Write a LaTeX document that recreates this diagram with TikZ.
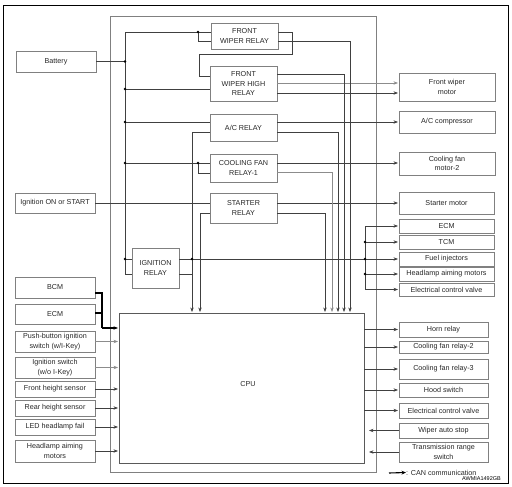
\documentclass[tikz,border=0pt]{standalone}
\usepackage{fontspec}
\setmainfont{Liberation Sans}
\usetikzlibrary{arrows.meta}
\definecolor{boxgray}{gray}{0.5}
\definecolor{wirecol}{gray}{0.25}
\newcommand\mybox[6]{\node[box, anchor=north west, minimum width=#4pt-#2pt, minimum height=#5pt-#3pt] (#1) at (#2,#3) {#6};}
\begin{document}
\begin{tikzpicture}[x=1pt,y=-1pt,
  box/.style={draw=boxgray, line width=0.7pt, inner sep=0pt, outer sep=0pt, align=center,
    font=\fontsize{7.2}{9.3}\selectfont, text=black!85},
  wire/.style={draw=wirecol, line width=0.55pt},
  gwire/.style={draw=black!45, line width=0.6pt},
  arr/.style={-{Stealth[length=4.5pt,width=3.4pt]}, shorten >=1pt},
  can/.style={draw=black, line width=1.4pt},
  dot/.style={circle, fill=black, inner sep=0pt, minimum size=2.8pt},
  lbl/.style={font=\fontsize{7.2}{9.3}\selectfont, text=black!85, inner sep=0pt}
]
\useasboundingbox (0,0) rectangle (512,487);
% frames
\draw[line width=0.8pt] (3,5) rectangle (508,483);
\draw[draw=black!50, line width=0.6pt] (110,16) rectangle (376,472);

% left boxes
\mybox{battery}{16}{51}{96}{72}{Battery}
\mybox{ign}{15}{193}{95}{213}{Ignition ON or START}
\mybox{bcm}{15}{277}{95}{298}{BCM}
\mybox{ecmL}{15}{304}{95}{324}{ECM}
\mybox{pb}{15}{331}{95}{352}{Push-button ignition\\switch (w/I-Key)}
\mybox{isw}{15}{357}{95}{378}{Ignition switch\\(w/o I-Key)}
\mybox{fhs}{15}{381}{95}{397}{Front height sensor}
\mybox{rhs}{15}{400}{95}{416}{Rear height sensor}
\mybox{led}{15}{419}{95}{435}{LED headlamp fail}
\mybox{haml}{15}{440}{95}{462}{Headlamp aiming\\motors}

% relays
\mybox{fwr}{211}{23}{278}{49}{FRONT\\WIPER RELAY}
\mybox{fwhr}{210}{66}{277}{101}{FRONT\\WIPER HIGH\\RELAY}
\mybox{acr}{210}{114}{277}{141}{A/C RELAY}
\mybox{cfr}{210}{154}{277}{182}{COOLING FAN\\RELAY-1}
\mybox{str}{210}{193}{277}{223}{STARTER\\RELAY}
\mybox{igr}{132}{248}{179}{288}{IGNITION\\RELAY}
\node[box, draw=black!65, anchor=north west, minimum width=245pt, minimum height=150pt] (cpu) at (119,313) {};
\node[lbl] (cputxt) at (248,384) {CPU};

% right boxes
\mybox{fwm}{399}{73}{495}{101}{Front wiper\\motor}
\mybox{acc}{399}{111}{495}{133}{A/C compressor}
\mybox{cfm}{399}{152}{495}{175}{Cooling fan\\motor-2}
\mybox{stm}{399}{192}{494}{214}{Starter motor}
\mybox{ecmR}{399}{219}{494}{233}{ECM}
\mybox{tcm}{399}{235}{494}{249}{TCM}
\mybox{fi}{399}{252}{494}{266}{Fuel injectors}
\mybox{hamr}{399}{267}{494}{281}{Headlamp aiming motors}
\mybox{ecvA}{399}{283}{494}{296}{Electrical control valve}
\mybox{horn}{399}{322}{488}{337}{Horn relay}
\mybox{cfr2}{399}{341}{488}{353}{Cooling fan relay-2}
\mybox{cfr3}{399}{359}{488}{379}{Cooling fan relay-3}
\mybox{hood}{399}{383}{488}{397}{Hood switch}
\mybox{ecvB}{399}{403}{488}{418}{Electrical control valve}
\mybox{was}{399}{423}{488}{438}{Wiper auto stop}
\mybox{trs}{399}{442}{488}{462}{Transmission range\\switch}

% power bus
\draw[wire] (fwr.west |- 0,32) -- (125,32) -- (125,274) -- (igr.west |- 0,274);
\draw[wire] (battery.east) -- (battery.east -| 125,0);
\draw[wire] (125,89) -- (fwhr.west |- 0,89);
\draw[wire] (125,122) -- (acr.west |- 0,122);
\draw[wire] (125,163) -- (cfr.west |- 0,163);
\draw[wire] (125,259) -- (igr.west |- 0,259);
\draw[wire] (198,32) -- (198,41) -- (fwr.west |- 0,41);
\draw[wire] (198,163) -- (198,173) -- (cfr.west |- 0,173);
% wiper relay loop
\draw[wire] (fwr.east |- 0,32) -- (292,32) -- (292,54) -- (199,54) -- (199,76) -- (fwhr.west |- 0,76);
% outputs to loads
\draw[gwire,arr] (fwhr.east |- 0,83) -- (fwm.west |- 0,83);
\draw[wire,arr] (fwhr.east |- 0,93) -- (fwm.west |- 0,93);
\draw[wire,arr] (acr.east |- 0,122) -- (acc.west |- 0,122);
\draw[wire,arr] (cfr.east |- 0,163) -- (cfm.west |- 0,163);
\draw[wire] (ign.east) -- (str.west |- ign.east);
\draw[wire,arr] (str.east |- stm.west) -- (stm.west);
% monitor lines to CPU
\draw[wire,arr] (acr.west |- 0,132) -- (192,132) -- (cpu.north -| 192,0);
\draw[wire,arr] (str.west |- 0,213) -- (200,213) -- (cpu.north -| 200,0);
\draw[wire,arr] (str.east |- 0,213) -- (325,213) -- (cpu.north -| 325,0);
\draw[gwire,arr] (cfr.east |- 0,172) -- (332,172) -- (cpu.north -| 332,0);
\draw[wire,arr] (acr.east |- 0,132) -- (338,132) -- (cpu.north -| 338,0);
\draw[wire,arr] (fwhr.east |- 0,74) -- (344,74) -- (cpu.north -| 344,0);
\draw[wire,arr] (fwr.east |- 0,41) -- (350,41) -- (cpu.north -| 350,0);
% ignition relay
\draw[wire] (igr.east |- 0,274) -- (192,274);
\draw[wire,arr] (igr.east |- fi.west) -- (fi.west);
\draw[wire] (ecmR.west -| 365,0) -- (ecvA.west -| 365,0);
\draw[wire,arr] (ecmR.west -| 365,0) -- (ecmR.west);
\draw[wire,arr] (tcm.west -| 365,0) -- (tcm.west);
\draw[wire,arr] (hamr.west -| 365,0) -- (hamr.west);
\draw[wire,arr] (ecvA.west -| 365,0) -- (ecvA.west);
% junction dots
\foreach \p in {(125,61.5),(125,89),(125,122),(125,163),(125,259),(198,32),(198,163),(192,259),(365,242),(365,259),(365,274)}
  \node[dot] at \p {};

% CAN
\draw[can] (bcm.east |- 0,293) -- (102,293) -- (102,328);
\draw[can] (ecmL.east |- 0,313) -- (102,313);
\draw[can,arr] (102,328) -- (cpu.west |- 0,328);

% CPU inputs
\draw[gwire,arr] (pb.east) -- (cpu.west |- pb.east);
\draw[gwire,arr] (isw.east) -- (cpu.west |- isw.east);
\draw[wire,arr] (fhs.east) -- (cpu.west |- fhs.east);
\draw[wire,arr] (rhs.east) -- (cpu.west |- rhs.east);
\draw[wire,arr] (led.east) -- (cpu.west |- led.east);
\draw[wire,arr] (haml.east) -- (cpu.west |- haml.east);
% CPU outputs
\draw[wire,arr] (cpu.east |- horn.west) -- (horn.west);
\draw[wire,arr] (cpu.east |- cfr2.west) -- (cfr2.west);
\draw[wire,arr] (cpu.east |- cfr3.west) -- (cfr3.west);
\draw[wire,arr] (cpu.east |- hood.west) -- (hood.west);
\draw[wire,arr] (cpu.east |- ecvB.west) -- (ecvB.west);
\draw[wire,arr,shorten >=5pt] (was.west) -- (cpu.east |- was.west);
\draw[wire,arr,shorten >=5pt] (trs.west) -- (cpu.east |- trs.west);

% legend
\coordinate (lgA) at (389,473);
\node[lbl, anchor=west] (lgtxt) at (406,472.5) {: CAN communication};
\draw[draw=black, line width=1.1pt, -{Stealth[length=4.5pt,width=3.8pt]}] (lgA) -- (lgtxt.west);
\node[font=\fontsize{5.5}{6}\selectfont, anchor=east, inner sep=0pt] (code) at (501,479) {AWMIA1492GB};
\end{tikzpicture}
\end{document}
